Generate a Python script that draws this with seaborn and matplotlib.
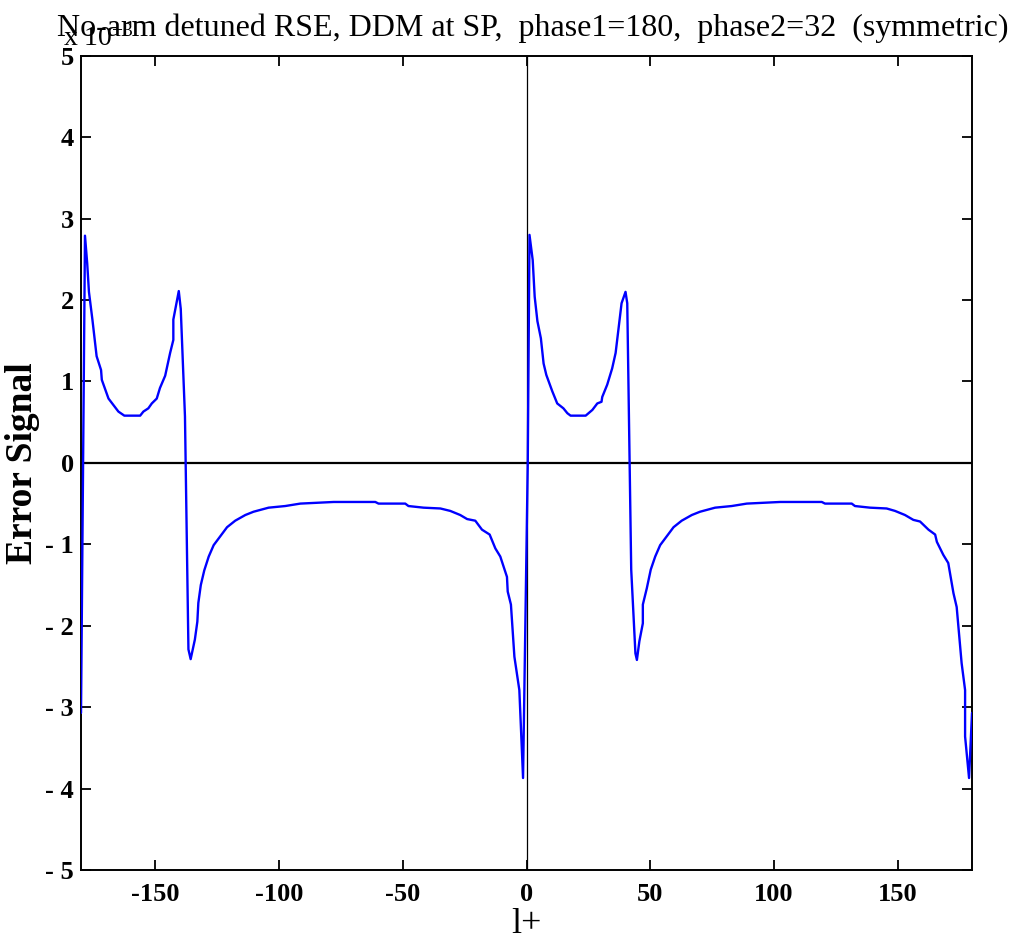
import numpy as np
import pandas as pd
import matplotlib
matplotlib.use("Agg")
import matplotlib.pyplot as plt
import seaborn as sns

# ---- data (error signal in units of 1e-3) ----
phase_deg = [
    -180.0, -178.4, -177.5, -176.8, -175.4, -173.7, -171.9, -171.6, -168.9, -166.9,
    -164.9, -162.5, -156.1, -154.8, -152.8, -151.4, -149.4, -148.1, -146.0, -144.0,
    -142.7, -142.7, -140.5, -139.7, -138.0, -136.6, -135.7, -134.0, -133.0, -132.6,
    -131.6, -130.2, -128.4, -126.4, -123.7, -121.0, -117.7, -113.6, -110.3, -104.2,
    -97.5, -91.4, -77.9, -61.1, -59.8, -49.0, -47.7, -41.6, -34.8, -30.8,
    -26.8, -24.0, -20.7, -18.0, -14.9, -12.6, -10.6, -7.9, -7.6, -6.3,
    -4.9, -2.9, -1.4, 0.5, 1.2, 2.5, 3.3, 4.4, 5.8, 6.9,
    8.0, 10.4, 12.4, 14.9, 16.5, 17.8, 23.9, 26.6, 28.6, 30.3,
    30.6, 32.6, 34.6, 36.0, 38.4, 40.0, 40.7, 42.3, 44.0, 44.6,
    45.6, 47.0, 47.0, 48.6, 50.2, 52.0, 54.0, 56.7, 59.4, 62.7,
    66.8, 70.1, 76.2, 82.9, 89.0, 102.5, 119.3, 120.6, 131.4, 132.7,
    138.8, 145.5, 148.9, 152.9, 156.3, 159.0, 162.4, 165.1, 165.8, 168.4,
    170.4, 172.5, 173.8, 175.8, 177.2, 177.2, 178.8, 180.0,
]
error_e3 = [
    -3.07, 2.79, 2.45, 2.10, 1.76, 1.31, 1.14, 1.02, 0.79, 0.71,
    0.63, 0.58, 0.58, 0.63, 0.67, 0.73, 0.79, 0.92, 1.07, 1.35,
    1.51, 1.76, 2.11, 1.89, 0.57, -2.29, -2.41, -2.17, -1.95, -1.72,
    -1.50, -1.32, -1.15, -1.01, -0.90, -0.79, -0.71, -0.64, -0.60, -0.55,
    -0.53, -0.50, -0.48, -0.48, -0.50, -0.50, -0.53, -0.55, -0.56, -0.59,
    -0.64, -0.69, -0.71, -0.82, -0.88, -1.05, -1.15, -1.40, -1.58, -1.74,
    -2.38, -2.79, -3.87, 0.00, 2.80, 2.49, 2.04, 1.74, 1.53, 1.22,
    1.08, 0.88, 0.73, 0.67, 0.61, 0.58, 0.58, 0.65, 0.73, 0.75,
    0.81, 0.96, 1.16, 1.35, 1.96, 2.10, 1.96, -1.31, -2.34, -2.42,
    -2.19, -1.97, -1.74, -1.54, -1.31, -1.15, -1.01, -0.90, -0.79, -0.71,
    -0.64, -0.60, -0.55, -0.53, -0.50, -0.48, -0.48, -0.50, -0.50, -0.53,
    -0.55, -0.56, -0.59, -0.64, -0.70, -0.72, -0.82, -0.88, -0.97, -1.13,
    -1.23, -1.60, -1.77, -2.46, -2.79, -3.36, -3.87, -3.07,
]
x_ticks = [-150, -100, -50, 0, 50, 100, 150]
x_tick_labels = ["-150", "-100", "-50", "0", "50", "100", "150"]
y_ticks = [-5, -4, -3, -2, -1, 0, 1, 2, 3, 4, 5]
y_tick_labels = ["- 5", "- 4", "- 3", "- 2", "- 1", "0", "1", "2", "3", "4", "5"]

title_text = "No-arm detuned RSE, DDM at SP,  phase1=180,  phase2=32  (symmetric)"
x_label = "l+"
y_label = "Error Signal"

df = pd.DataFrame({"phase": phase_deg, "err": error_e3})

sns.set_theme(style="ticks")
plt.rcParams["font.family"] = ["Liberation Serif", "DejaVu Serif"]
plt.rcParams["text.color"] = "black"
plt.rcParams["axes.labelcolor"] = "black"
plt.rcParams["mathtext.fontset"] = "custom"
plt.rcParams["mathtext.rm"] = "Liberation Serif"
plt.rcParams["mathtext.it"] = "Liberation Serif:italic"
plt.rcParams["mathtext.bf"] = "Liberation Serif:bold"

fig = plt.figure(figsize=(10.14, 9.46), dpi=100)
ax = fig.add_axes([0.0799, 0.0803, 0.8787, 0.8608])

ax.axhline(0, color="black", lw=1.6, zorder=1)
ax.axvline(0, color="black", lw=0.9, zorder=1)
sns.lineplot(data=df, x="phase", y="err", ax=ax, color="#0000ff", lw=1.7,
             sort=False, estimator=None, zorder=3)

ax.set_xlim(-180, 180)
ax.set_ylim(-5, 5)
ax.set_xticks(x_ticks)
ax.set_xticklabels(x_tick_labels)
ax.set_yticks(y_ticks)
ax.set_yticklabels(y_tick_labels)
ax.tick_params(direction="in", length=7, width=1.3, top=True, right=True,
               labelsize=19, colors="black")
ax.tick_params(axis="x", pad=9)
ax.tick_params(axis="y", pad=5)
for lab in ax.get_xticklabels() + ax.get_yticklabels():
    lab.set_fontweight("bold")
for sp in ax.spines.values():
    sp.set_visible(True)
    sp.set_linewidth(1.4)
    sp.set_color("black")

ax.set_xlabel(x_label, fontsize=26, labelpad=2)
ax.set_ylabel(y_label, fontsize=27, fontweight="bold")
ax.yaxis.set_label_coords(-0.046, 0.5)
fig.text(0.525, 0.962, title_text, ha="center", va="baseline", fontsize=23,
         color="black")
fig.text(0.062, 0.952, r"x 10$^{-3}$", ha="left", va="baseline", fontsize=20,
         color="black")

fig.savefig("out.png", dpi=100, facecolor="white")
